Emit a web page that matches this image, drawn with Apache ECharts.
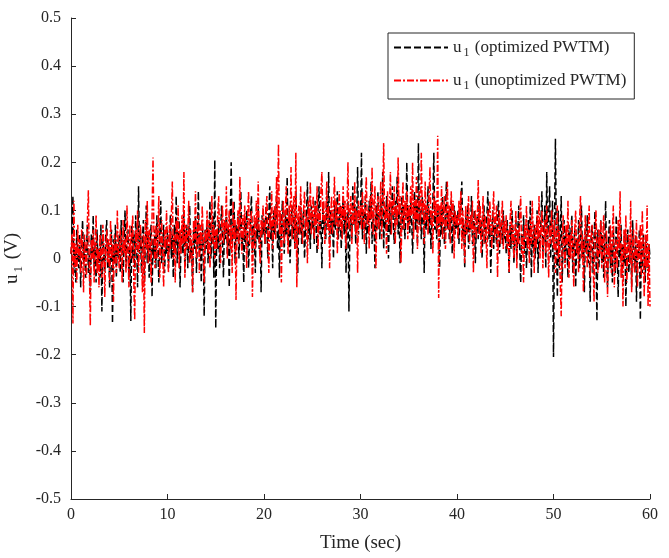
<!DOCTYPE html>
<html lang="en">
<head>
<meta charset="UTF-8">
<title>u1 PWTM</title>
<script src="https://cdn.jsdelivr.net/npm/echarts@6.0.0/dist/echarts.min.js"></script>
<style>
  html, body { margin: 0; padding: 0; background: #fff; }
  #main { width: 669px; height: 558px; }
</style>
</head>
<body>
<div id="main"></div>
<script type="text/javascript">
// sampling step of the traces (sec)
const sampleStep = 0.1;

// u1 with optimized PWTM (black dashed), 5 s per row block
const optimizedU1 = [
  0.01, 0.04, 0.13, -0.03, 0.02, -0.05, 0.06, 0.00, -0.02, 0.05,
  -0.06, 0.03, 0.08, -0.01, 0.04, -0.04, 0.02, 0.07, -0.03, 0.01,
  -0.07, 0.05, 0.00, 0.09, -0.02, 0.03, -0.05, 0.06, -0.01, 0.02,
  -0.04, 0.07, -0.11, 0.04, 0.01, -0.03, 0.05, 0.08, -0.02, 0.03,
  -0.06, 0.02, 0.06, -0.135, 0.04, -0.01, 0.07, -0.04, 0.03, 0.00,

  0.05, -0.03, 0.08, 0.01, -0.05, 0.04, 0.10, -0.02, 0.03, 0.06,
  -0.04, 0.02, -0.13, 0.07, 0.00, 0.05, -0.02, 0.09, 0.03, -0.06,
  0.15, 0.01, 0.06, -0.03, 0.04, 0.08, -0.05, 0.02, 0.11, -0.01,
  0.05, -0.04, 0.03, 0.07, -0.08, 0.04, 0.00, 0.06, -0.02, 0.09,
  0.02, -0.05, 0.05, 0.12, -0.01, 0.03, 0.07, -0.03, 0.04, 0.01,

  0.06, -0.02, 0.04, 0.09, 0.00, 0.05, -0.04, 0.07, 0.02, 0.13,
  -0.01, 0.05, 0.08, -0.06, 0.03, 0.06, 0.01, 0.10, -0.03, 0.04,
  0.07, -0.02, 0.05, 0.11, 0.00, 0.03, -0.07, 0.06, 0.02, 0.09,
  -0.03, 0.05, 0.14, 0.01, 0.04, -0.05, 0.07, 0.03, -0.12, 0.06,
  0.02, 0.08, -0.01, 0.05, 0.12, 0.00, 0.04, 0.09, -0.04, 0.205,

  -0.145, 0.06, 0.02, 0.08, -0.02, 0.05, 0.11, 0.03, -0.04, 0.07,
  0.04, 0.10, 0.01, 0.06, -0.06, 0.08, 0.20, 0.03, 0.05, 0.12,
  -0.01, 0.07, 0.04, 0.09, 0.00, 0.06, 0.14, 0.02, 0.05, -0.05,
  0.08, 0.03, 0.10, 0.06, -0.02, 0.04, 0.09, 0.13, 0.01, 0.07,
  0.05, -0.03, 0.08, 0.04, 0.11, 0.02, 0.06, -0.07, 0.09, 0.05,

  0.08, 0.03, 0.11, 0.06, 0.00, 0.09, 0.15, 0.04, 0.07, -0.02,
  0.10, 0.05, 0.08, 0.13, 0.02, 0.06, -0.04, 0.09, 0.04, 0.12,
  0.07, 0.01, 0.10, 0.05, 0.17, 0.03, 0.08, -0.01, 0.06, 0.11,
  0.04, 0.09, 0.02, 0.14, 0.06, -0.03, 0.08, 0.05, 0.12, 0.03,
  0.07, 0.10, 0.00, 0.06, 0.09, 0.16, 0.04, 0.08, 0.02, 0.11,

  0.06, 0.09, 0.03, 0.12, 0.07, 0.01, 0.10, 0.15, 0.05, 0.08,
  -0.02, 0.11, 0.06, 0.09, 0.04, 0.13, 0.07, 0.18, 0.03, 0.10,
  0.05, 0.08, 0.00, 0.12, 0.06, 0.09, 0.14, 0.04, 0.07, 0.11,
  0.02, 0.08, 0.13, 0.05, 0.10, -0.03, 0.07, 0.12, -0.11, 0.06,
  0.09, 0.04, 0.15, 0.07, 0.11, 0.03, 0.08, 0.19, 0.05, 0.10,

  0.07, 0.22, 0.04, 0.10, 0.06, 0.13, 0.01, 0.09, 0.05, 0.12,
  0.08, 0.16, 0.03, 0.10, 0.07, -0.02, 0.11, 0.06, 0.14, 0.09,
  0.04, 0.12, 0.07, 0.18, 0.02, 0.10, 0.06, 0.13, 0.08, 0.00,
  0.11, 0.05, 0.09, 0.15, 0.07, 0.03, 0.12, 0.08, 0.17, 0.05,
  0.10, -0.01, 0.08, 0.13, 0.06, 0.11, 0.04, 0.09, 0.20, 0.07,

  0.10, 0.05, 0.12, 0.08, 0.01, 0.09, 0.14, 0.06, 0.11, 0.03,
  0.24, 0.07, 0.10, 0.04, 0.13, 0.08, -0.03, 0.11, 0.06, 0.09,
  0.15, 0.05, 0.10, 0.02, 0.08, 0.12, 0.22, 0.06, 0.09, 0.04,
  0.11, 0.07, -0.02, 0.10, 0.05, 0.13, 0.08, 0.03, 0.09, 0.16,
  0.06, 0.10, 0.04, 0.08, 0.12, 0.01, 0.07, 0.11, 0.05, 0.09,

  0.06, 0.10, 0.03, 0.08, 0.12, 0.16, 0.04, 0.07, -0.02, 0.09,
  0.05, 0.11, 0.02, 0.08, 0.06, 0.13, 0.03, 0.07, 0.10, -0.01,
  0.06, 0.09, 0.04, 0.12, 0.05, 0.08, 0.00, 0.07, 0.11, 0.03,
  0.06, 0.09, 0.14, 0.04, 0.07, -0.03, 0.05, 0.10, 0.02, 0.08,
  0.06, 0.03, 0.09, 0.12, 0.01, 0.05, 0.08, 0.03, 0.10, 0.04,

  0.06, 0.01, 0.08, 0.04, -0.03, 0.07, 0.02, 0.10, 0.05, -0.01,
  0.04, 0.08, 0.00, 0.06, 0.11, 0.02, -0.05, 0.05, 0.03, 0.09,
  0.01, 0.06, -0.02, 0.04, 0.08, 0.03, 0.12, -0.04, 0.05, 0.02,
  0.07, 0.00, 0.04, 0.10, -0.03, 0.06, 0.02, 0.08, 0.14, 0.01,
  0.05, 0.11, -0.02, 0.18, 0.04, 0.09, 0.15, 0.00, 0.07, 0.12,

  -0.205, 0.06, 0.249, 0.03, -0.08, 0.10, -0.02, 0.05, 0.13, -0.05,
  0.04, 0.08, -0.01, 0.06, 0.02, -0.04, 0.07, 0.00, 0.05, 0.09,
  -0.03, 0.03, 0.06, -0.06, 0.04, 0.01, 0.08, -0.02, 0.05, 0.11,
  0.00, 0.04, -0.07, 0.06, 0.02, 0.09, -0.01, 0.03, -0.09, 0.05,
  0.07, -0.03, 0.04, 0.10, 0.01, -0.13, 0.06, -0.02, 0.03, 0.08,

  -0.01, 0.05, -0.04, 0.02, 0.12, 0.00, -0.06, 0.04, 0.08, -0.02,
  0.03, -0.05, 0.06, 0.01, -0.03, 0.09, 0.02, -0.08, 0.04, 0.00,
  0.07, -0.04, 0.03, -0.01, 0.05, -0.10, 0.02, 0.06, -0.03, 0.01,
  0.04, -0.06, 0.08, 0.00, -0.02, 0.05, -0.09, 0.03, 0.01, 0.06,
  -0.128, 0.02, -0.03, 0.05, 0.00, -0.05, 0.04, 0.01, -0.02, 0.03, 0.00
];

// u1 with unoptimized PWTM (red dash-dot)
const unoptimizedU1 = [
  0.01, 0.05, -0.135, 0.12, -0.02, 0.03, -0.05, 0.07, 0.00, 0.04,
  -0.03, 0.06, 0.02, -0.07, 0.05, 0.01, -0.04, 0.08, 0.142, -0.02,
  -0.14, 0.04, 0.00, 0.06, -0.05, 0.03, 0.09, -0.03, 0.02, -0.06,
  0.05, 0.01, -0.04, 0.07, 0.03, -0.08, 0.02, 0.06, -0.01, 0.04,
  -0.05, 0.08, 0.00, 0.03, -0.09, 0.05, 0.02, -0.03, 0.10, 0.01,

  -0.02, 0.06, 0.03, -0.05, 0.08, 0.01, 0.04, -0.03, 0.11, 0.02,
  -0.06, 0.07, 0.00, 0.05, 0.09, -0.04, -0.128, 0.06, 0.02, 0.10,
  -0.03, 0.04, 0.07, 0.01, -0.07, 0.05, -0.155, 0.08, 0.02, 0.12,
  -0.01, 0.06, 0.03, -0.05, 0.09, 0.21, 0.04, -0.02, 0.07, 0.00,
  0.05, 0.13, -0.04, 0.03, 0.08, 0.01, -0.06, 0.06, 0.02, 0.10,

  0.03, -0.03, 0.07, 0.02, 0.09, 0.16, 0.00, 0.05, -0.05, 0.08,
  0.04, 0.11, -0.02, 0.06, 0.01, 0.09, 0.03, 0.18, -0.04, 0.07,
  0.02, 0.05, 0.12, -0.01, 0.06, 0.03, -0.07, 0.08, 0.04, 0.14,
  0.00, 0.05, 0.09, -0.03, 0.07, 0.02, 0.11, 0.04, -0.05, 0.06,
  0.03, 0.10, 0.01, 0.08, -0.02, 0.05, 0.13, 0.03, 0.07, 0.00,

  0.06, 0.02, 0.09, 0.13, 0.04, -0.01, 0.07, 0.11, 0.03, 0.08,
  0.05, 0.15, 0.00, 0.06, 0.10, 0.02, 0.07, -0.03, 0.12, 0.04,
  0.08, -0.086, 0.05, 0.10, 0.03, 0.17, 0.06, 0.01, 0.09, 0.04,
  0.11, 0.06, -0.02, 0.08, 0.14, 0.03, 0.07, 0.10, -0.08, 0.05,
  0.09, 0.02, 0.12, 0.06, 0.16, 0.04, -0.01, 0.08, 0.05, 0.11,

  0.07, 0.03, 0.10, 0.13, 0.05, -0.03, 0.09, 0.06, 0.14, 0.02,
  0.08, 0.11, 0.04, 0.17, 0.07, 0.238, 0.05, 0.10, -0.05, 0.08,
  0.12, 0.03, 0.09, 0.15, 0.06, 0.01, 0.11, 0.07, 0.19, 0.04,
  0.09, 0.13, 0.02, 0.22, -0.06, 0.08, 0.11, 0.05, 0.15, 0.07,
  0.03, 0.10, 0.14, 0.06, 0.09, -0.01, 0.12, 0.08, 0.16, 0.05,

  0.09, 0.13, 0.04, 0.11, 0.07, 0.15, 0.02, 0.10, 0.06, 0.14,
  0.18, 0.08, 0.12, 0.03, 0.09, 0.16, 0.06, 0.11, -0.02, 0.08,
  0.13, 0.05, 0.10, 0.17, 0.07, 0.12, 0.01, 0.09, 0.14, 0.06,
  0.11, 0.04, 0.15, 0.08, 0.12, 0.02, 0.10, 0.20, 0.06, 0.09,
  0.13, 0.03, 0.11, 0.07, 0.16, 0.05, 0.10, -0.03, 0.12, 0.08,

  0.11, 0.06, 0.14, 0.09, 0.03, 0.12, 0.17, 0.07, 0.10, 0.02,
  0.13, 0.08, 0.19, 0.05, 0.11, 0.15, -0.02, 0.09, 0.13, 0.06,
  0.10, 0.16, 0.04, 0.12, 0.24, 0.08, 0.11, 0.01, 0.14, 0.07,
  0.10, 0.18, 0.05, 0.12, 0.09, 0.15, 0.03, 0.11, 0.07, 0.21,
  0.09, 0.13, -0.01, 0.10, 0.16, 0.06, 0.12, 0.08, 0.14, 0.04,

  0.11, 0.07, 0.15, 0.09, 0.20, 0.04, 0.12, 0.08, 0.17, 0.02,
  0.10, 0.14, 0.06, 0.22, 0.09, 0.12, 0.03, 0.16, 0.08, 0.11,
  0.05, 0.13, 0.19, 0.07, 0.10, 0.01, 0.14, 0.09, 0.12, 0.06,
  0.255, -0.082, 0.11, 0.07, 0.15, 0.04, 0.10, 0.13, 0.02, 0.09,
  0.16, 0.06, 0.11, 0.03, 0.14, 0.08, 0.12, 0.00, 0.10, 0.07,

  0.09, 0.04, 0.12, 0.07, 0.14, 0.02, 0.10, 0.06, -0.01, 0.11,
  0.05, 0.08, 0.13, 0.03, 0.09, 0.06, 0.12, -0.03, 0.07, 0.10,
  0.04, 0.08, 0.163, 0.05, 0.11, 0.01, 0.07, 0.13, 0.03, 0.09,
  0.06, -0.02, 0.10, 0.05, 0.12, 0.07, 0.02, 0.09, 0.14, 0.04,
  0.08, 0.11, -0.04, 0.06, 0.10, 0.03, 0.07, 0.12, 0.02, 0.08,

  0.05, 0.09, 0.02, 0.06, -0.03, 0.08, 0.12, 0.03, 0.07, 0.00,
  0.05, 0.10, -0.02, 0.06, 0.03, 0.09, 0.13, 0.01, 0.05, -0.05,
  0.07, 0.04, 0.11, 0.02, 0.06, -0.01, 0.08, 0.03, 0.12, 0.05,
  -0.03, 0.07, 0.02, 0.09, 0.04, 0.13, 0.00, 0.06, 0.10, -0.02,
  0.05, 0.08, 0.01, 0.11, 0.04, -0.04, 0.07, 0.03, 0.10, 0.05,

  0.02, 0.08, -0.03, 0.05, 0.11, 0.00, 0.06, -0.05, -0.12, 0.04,
  0.09, 0.01, -0.02, 0.07, 0.03, 0.12, -0.04, 0.05, 0.00, 0.08,
  0.02, -0.06, 0.06, 0.10, 0.01, 0.04, -0.03, 0.08, 0.13, 0.00,
  0.05, -0.07, 0.03, 0.09, 0.02, -0.02, 0.06, 0.11, -0.04, 0.04,
  0.07, 0.00, -0.09, 0.05, 0.10, 0.02, -0.03, 0.06, 0.01, 0.08,

  -0.02, 0.04, 0.09, -0.05, 0.02, 0.06, -0.08, 0.03, 0.00, 0.07,
  -0.03, 0.05, 0.11, -0.06, 0.01, 0.04, -0.02, 0.08, 0.02, 0.14,
  -0.04, 0.03, -0.10, 0.06, 0.00, 0.09, -0.05, 0.02, 0.05, -0.01,
  0.12, -0.07, 0.03, 0.06, -0.03, 0.01, 0.08, -0.06, 0.04, 0.00,
  0.07, -0.04, 0.10, 0.02, -0.08, 0.05, -0.02, 0.11, -0.10, 0.03, -0.10
];

const seriesNames = ['optimized PWTM', 'unoptimized PWTM'];

const font = 'Liberation Serif';
const ink = '#262626';

function toPairs(values) {
  return values.map((v, i) => [+(i * sampleStep).toFixed(2), v]);
}

const chart = echarts.init(document.getElementById('main'), null, { renderer: 'canvas' });

const option = {
  animation: false,
  backgroundColor: '#fff',
  grid: { left: 71, right: 19, top: 18, bottom: 59, containLabel: false, outerBoundsMode: 'none' },
  legend: {
    orient: 'vertical',
    left: 388,
    top: 33,
    padding: [6, 8, 7, 5],
    itemGap: 13,
    itemWidth: 54,
    itemHeight: 14,
    borderColor: ink,
    borderWidth: 1,
    borderRadius: 0,
    backgroundColor: '#fff',
    itemStyle: { opacity: 0 },
    textStyle: {
      fontFamily: font,
      fontSize: 17,
      color: ink,
      rich: {
        a: { fontFamily: font, fontSize: 17, color: ink },
        s: { fontFamily: font, fontSize: 12, color: ink, padding: [11, 1, 0, 2] }
      }
    },
    formatter: name => '{a|u}{s|1}{a| (' + name + ')}',
    data: seriesNames
  },
  xAxis: {
    type: 'value',
    min: 0,
    max: 60,
    interval: 10,
    name: 'Time (sec)',
    nameLocation: 'middle',
    nameGap: 35,
    nameTextStyle: { fontFamily: font, fontSize: 19, color: ink },
    axisLine: { onZero: false, lineStyle: { color: ink, width: 1 } },
    axisTick: { inside: true, length: 5, lineStyle: { color: ink } },
    axisLabel: { fontFamily: font, fontSize: 16, color: ink, margin: 8 },
    splitLine: { show: false }
  },
  yAxis: {
    type: 'value',
    min: -0.5,
    max: 0.5,
    interval: 0.1,
    name: '{a|u}{s|1}{a| (V)}',
    nameLocation: 'middle',
    nameGap: 45,
    nameRotate: 90,
    nameTextStyle: {
      fontFamily: font,
      fontSize: 19,
      color: ink,
      rich: {
        a: { fontFamily: font, fontSize: 19, color: ink },
        s: { fontFamily: font, fontSize: 13, color: ink, padding: [12, 2, 0, 2] }
      }
    },
    axisLine: { show: true, onZero: false, lineStyle: { color: ink, width: 1 } },
    axisTick: { show: true, inside: true, length: 5, lineStyle: { color: ink } },
    axisLabel: {
      fontFamily: font,
      fontSize: 16,
      color: ink,
      margin: 10,
      formatter: v => String(+v.toFixed(1))
    },
    splitLine: { show: false }
  },
  series: [
    {
      name: seriesNames[0],
      type: 'line',
      data: toPairs(optimizedU1),
      showSymbol: false,
      symbol: 'none',
      lineStyle: { color: '#000', width: 1.5, type: [7, 3] },
      itemStyle: { color: '#000' },
      z: 2
    },
    {
      name: seriesNames[1],
      type: 'line',
      data: toPairs(unoptimizedU1),
      showSymbol: false,
      symbol: 'none',
      lineStyle: { color: '#ff0000', width: 1.5, type: [7, 2, 2, 2] },
      itemStyle: { color: '#ff0000' },
      z: 3
    }
  ]
};

chart.setOption(option);
</script>
</body>
</html>
